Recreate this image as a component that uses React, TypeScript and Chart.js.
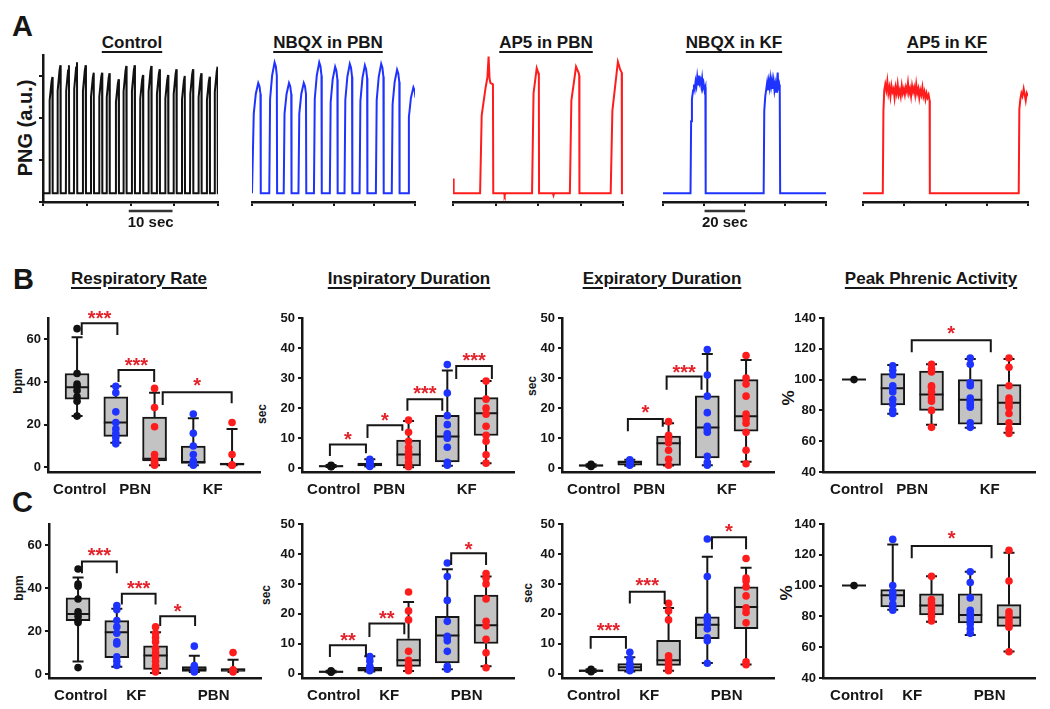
import React, { useEffect, useRef } from 'react';
import { Chart, registerables } from 'chart.js';

Chart.register(...registerables);

const FONT = "'Liberation Sans', Arial, Helvetica, sans-serif";
const INK = '#161616';
const COL_BLACK = '#111111';
const COL_BLUE = '#1f33ff';
const COL_RED = '#ff1c1c';
const COL_STAR = '#e3232b';
const BOX_FILL = '#c3c3c3';
const GROUP_COLORS = [COL_BLACK, COL_BLUE, COL_RED, COL_BLUE, COL_RED];

// ---------- Panel A: PNG traces (time in s, amplitude in a.u.) ----------
const BASE = 0.059;
const CTRL_PEAK_T = [2.15, 3.98, 5.93, 7.77, 9.76, 11.6, 13.5, 15.2, 17.3, 19.05, 20.96, 22.86, 24.77, 26.67, 28.6, 30.5, 32.4, 34.3, 36.2, 38.1, 39.9];
const CTRL_PEAK_A = [0.85, 0.93, 0.93, 0.95, 0.93, 0.88, 0.88, 0.876, 0.835, 0.925, 0.93, 0.864, 0.925, 0.903, 0.864, 0.903, 0.857, 0.903, 0.876, 0.852, 0.92];
const NBQX_PBN_PEAK_T = [1.53, 5.54, 9.08, 12.7, 16.5, 20.4, 24.0, 27.7, 31.7, 35.6, 39.6];
const NBQX_PBN_PEAK_A = [0.81, 0.95, 0.81, 0.81, 0.95, 0.92, 0.94, 0.93, 0.94, 0.9, 0.78];
const AP5_PBN_T = [0, 0.3, 12.75, 13.5, 15.25, 16.2, 16.75, 17.2, 17.6, 18.8, 18.95, 24.0, 24.3, 24.6, 37.2, 37.9, 39.4, 40.1, 40.4, 40.5, 47.0, 47.3, 47.6, 55.0, 55.7, 57.9, 59.1, 59.4, 59.5, 74.2, 75.0, 77.6, 78.7, 79.4, 79.5, 80];
const AP5_PBN_V = [0.16, 0.059, 0.059, 0.59, 0.77, 0.85, 0.99, 0.84, 0.81, 0.8, 0.059, 0.059, 0.045, 0.059, 0.059, 0.74, 0.91, 0.88, 0.86, 0.059, 0.059, 0.045, 0.059, 0.059, 0.69, 0.92, 0.88, 0.86, 0.059, 0.059, 0.62, 0.954, 0.9, 0.88, 0.059, 0.059];
const NBQX_KF_T = [0, 13.5, 13.8, 14.2, 14.8, 15.2, 15.6, 16.0, 16.4, 16.8, 17.2, 17.6, 18.0, 18.4, 18.8, 19.2, 19.6, 20.0, 20.4, 20.8, 20.95, 49.4, 49.7, 50.2, 50.7, 51.1, 51.5, 51.9, 52.3, 52.7, 53.1, 53.5, 53.9, 54.3, 54.7, 55.1, 55.5, 55.9, 56.3, 56.6, 57.0, 57.3, 57.5, 80];
const NBQX_KF_V = [0.059, 0.059, 0.55, 0.7, 0.76, 0.8, 0.77, 0.82, 0.79, 0.85, 0.8, 0.86, 0.81, 0.83, 0.79, 0.84, 0.78, 0.8, 0.76, 0.78, 0.059, 0.059, 0.62, 0.72, 0.77, 0.81, 0.76, 0.82, 0.78, 0.84, 0.79, 0.83, 0.77, 0.82, 0.76, 0.8, 0.75, 0.81, 0.88, 0.78, 0.8, 0.76, 0.059, 0.059];
const AP5_KF_T = [0, 9.6, 9.9, 10.3, 10.8, 11.3, 11.8, 12.3, 12.8, 13.3, 13.8, 14.3, 14.8, 15.3, 15.8, 16.3, 16.8, 17.3, 17.8, 18.3, 18.8, 19.3, 19.8, 20.3, 20.8, 21.3, 21.8, 22.3, 22.8, 23.3, 23.8, 24.3, 24.8, 25.3, 25.8, 26.3, 26.8, 27.3, 27.8, 28.3, 28.8, 29.3, 29.8, 30.3, 30.8, 31.3, 31.8, 32.3, 32.4, 75.5, 75.8, 76.3, 76.8, 77.3, 77.9, 78.4, 78.9, 79.4, 80];
const AP5_KF_V = [0.059, 0.059, 0.62, 0.76, 0.8, 0.76, 0.82, 0.74, 0.78, 0.72, 0.79, 0.75, 0.77, 0.71, 0.78, 0.74, 0.8, 0.73, 0.76, 0.72, 0.79, 0.74, 0.77, 0.73, 0.78, 0.75, 0.81, 0.74, 0.77, 0.72, 0.79, 0.75, 0.78, 0.73, 0.8, 0.74, 0.77, 0.71, 0.76, 0.73, 0.78, 0.72, 0.75, 0.7, 0.74, 0.71, 0.73, 0.69, 0.059, 0.059, 0.63, 0.7, 0.74, 0.72, 0.77, 0.73, 0.69, 0.74, 0.72];

const CTRL_SHAPE = [[-0.7, 0], [-0.63, 0.8], [-0.2, 0.96], [0, 1], [0.06, 0]];
const NBQX_PBN_SHAPE = [[-1.3, 0], [-1.1, 0.72], [-0.6, 0.9], [0, 1], [0.3, 0.97], [0.55, 0.9], [0.62, 0]];

function buildBursts(peaks: number[], amps: number[], shape: number[][], xMax: number) {
  const out: { x: number; y: number }[] = [{ x: 0, y: BASE }];
  peaks.forEach((p, i) => {
    shape.forEach(([dt, f]) => out.push({ x: p + dt, y: BASE + f * (amps[i] - BASE) }));
  });
  if (out[out.length - 1].x < xMax) out.push({ x: xMax, y: BASE });
  return out;
}
function zipXY(t: number[], v: number[]) {
  return t.map((x, i) => ({ x, y: v[i] }));
}

const TRACES = [
  { left: 43, right: 218, xMax: 40, xStep: 10, color: COL_BLACK, showY: true, data: buildBursts(CTRL_PEAK_T, CTRL_PEAK_A, CTRL_SHAPE, 40), bar: [19.6, 29.6, '10 sec'] },
  { left: 242, right: 415, xMax: 40, xStep: 10, color: COL_BLUE, showY: false, data: buildBursts(NBQX_PBN_PEAK_T, NBQX_PBN_PEAK_A, NBQX_PBN_SHAPE, 40), bar: null },
  { left: 443, right: 623, xMax: 80, xStep: 20, color: COL_RED, showY: false, data: zipXY(AP5_PBN_T, AP5_PBN_V), bar: null },
  { left: 653, right: 826, xMax: 80, xStep: 20, color: COL_BLUE, showY: false, data: zipXY(NBQX_KF_T, NBQX_KF_V), bar: [20.4, 40.3, '20 sec'] },
  { left: 853, right: 1028, xMax: 80, xStep: 20, color: COL_RED, showY: false, data: zipXY(AP5_KF_T, AP5_KF_V), bar: null },
];
const TRACE_Y_TICKS = [0, 2 / 7, 4 / 7, 6 / 7];

// ---------- Panels B & C: box plots [lo, q1, median, q3, hi] ----------
const B_LABELS = ['Control', 'PBN', 'KF'];
const C_LABELS = ['Control', 'KF', 'PBN'];
const LABEL_POS = [1.07, 2.5, 4.5];
const RATE_TICKS = [0, 20, 40, 60];
const DUR_TICKS = [0, 10, 20, 30, 40, 50];
const PEAK_TICKS = [40, 60, 80, 100, 120, 140];

const B_RATE_BOX = [[24, 32, 37.5, 44, 61], [11.5, 14.5, 21, 33, 38], [1, 3, 4, 23.5, 35], [1, 1.8, 2.5, 10, 23], [1, 1, 1.5, 2, 18]];
const B_RATE_PTS = [[65, 44, 39, 38, 36, 33, 31, 24], [38, 35, 26, 21, 18, 16, 14, 12, 11], [37, 28, 19, 6, 4, 3, 2, 1.5, 1], [25, 16, 10, 6, 3, 2, 1.5, 1], [21, 6, 1, 1]];
const B_RATE_SIG = [[1.12, 2.04, 67.5, 62, 62, 72, '***'], [2.07, 2.99, 45.6, 40, 40, 50, '***'], [3.21, 4.99, 35.2, 29.2, 30, 40.6, '*']];

const B_INSP_BOX = [[0.4, 0.6, 0.7, 0.9, 1.1], [0.6, 0.8, 1.2, 1.7, 3], [0.3, 0.8, 4.6, 9.4, 15.7], [0.8, 2.1, 10.6, 17.6, 32.5], [1.7, 10.9, 18.3, 23.5, 29]];
const B_INSP_PTS = [[1.0, 0.8, 0.7, 0.6, 0.5], [3, 2.5, 2, 1.5, 1.2, 1, 0.8, 0.6], [16, 12, 9, 7, 5.5, 4.5, 3.5, 2, 1, 0.5], [34.5, 25, 17.5, 14.5, 11.5, 11, 10, 7, 2, 1], [29, 23, 20, 18, 14, 11, 9, 4.5, 1.7]];
const B_INSP_SIG = [[0.97, 1.9, 7.9, 4.1, 5, 11.2, '*'], [1.94, 2.84, 14.3, 10.1, 12.5, 17.4, '*'], [2.97, 3.87, 23, 19.1, 19.1, 26.6, '***'], [4.23, 5.15, 34, 29.7, 29.7, 37.4, '***']];

const B_EXP_BOX = [[0.5, 0.7, 0.9, 1.1, 1.3], [0.8, 1.0, 2.0, 2.5, 2.8], [0.9, 0.9, 8.3, 10.7, 15], [1, 3.4, 13.6, 24.1, 38], [2.2, 12.3, 17.3, 29.5, 36]];
const B_EXP_PTS = [[1.3, 1.0, 0.8, 0.6], [2.8, 2.5, 2.2, 1.8, 1.5, 1.2, 1], [15.5, 11, 10, 8.5, 6, 3, 1], [39.5, 31, 24, 18.5, 14, 13, 12, 4, 2, 1], [37.5, 30, 28, 24, 18, 16.5, 15, 12, 6, 1.5]];
const B_EXP_SIG = [[1.95, 2.85, 16.4, 12.3, 13.8, 20.1, '*'], [2.95, 3.85, 30.5, 26.1, 26.1, 33.6, '***']];

const B_PEAK_BOX = [[100, 100, 100, 100, 100], [77.8, 83.6, 94.4, 103.9, 109.5], [70.7, 80, 90.3, 105.6, 110], [68.7, 71, 86.9, 100, 113.4], [65.5, 70.7, 84.9, 96.8, 113.4]];
const B_PEAK_PTS = [[100], [109, 106, 103, 96, 94, 92, 87, 84, 80, 78], [110, 107, 105, 96, 95, 92, 88, 86, 80, 69], [114, 110, 98, 96, 88, 86, 84, 82, 72, 69], [114, 108, 96, 88, 86, 84, 82, 78, 72, 68, 65]];
const B_PEAK_SIG = [[2.49, 4.53, 125.6, 117.7, 117.7, 133, '*']];

const C_RATE_BOX = [[5.8, 24.9, 28, 35.6, 45], [3.4, 7.6, 19.5, 24.9, 30.5], [0.5, 2.1, 8.6, 13.2, 19.5], [1, 1.2, 2.2, 3.5, 8.5], [1, 1.2, 2, 2.5, 6.7]];
const C_RATE_PTS = [[49, 42, 41, 35, 29, 27, 25, 24, 3], [32, 30, 25, 22, 19, 15, 14, 8, 6, 4], [22, 19, 17, 15, 12, 10, 8, 6, 4, 3, 2, 1], [13, 4, 3, 2, 1.5, 1], [10, 2, 1.5, 1]];
const C_RATE_SIG = [[1.1, 2.0, 52.5, 47, 47, 57.5, '***'], [2.13, 3.0, 37.5, 32.5, 32.5, 42.1, '***'], [3.12, 4.02, 27, 22.4, 22.4, 31.6, '*']];

const C_INSP_BOX = [[0.4, 0.5, 0.7, 0.9, 1.0], [0.8, 0.9, 1.5, 2.2, 5.9], [0.9, 2.5, 4.5, 11.7, 24], [1.5, 3.6, 12.8, 19.2, 34.9], [2.5, 10.1, 16.2, 26.3, 32.5]];
const C_INSP_PTS = [[1.0, 0.7, 0.5], [5.8, 4.3, 2.5, 2, 1.5, 1], [27.3, 21, 18, 7.5, 4.5, 3, 2, 1], [37, 32.5, 24.5, 17.5, 12.5, 12, 11, 7.5, 2.5, 1.5], [33.5, 32, 30, 25, 17.5, 16, 11.5, 7, 2]];
const C_INSP_SIG = [[0.97, 1.9, 9.5, 5.6, 5.6, 12.8, '**'], [1.99, 2.89, 16.8, 12.3, 13.2, 20.1, '**'], [4.1, 5.0, 40.2, 36.3, 36.3, 43, '*']];

const C_EXP_BOX = [[0.6, 0.7, 1.0, 1.3, 1.5], [0.8, 0.9, 2.2, 3.4, 5.5], [1.0, 2.8, 4.5, 11.2, 22], [3.6, 11.7, 16.4, 19, 39.1], [3.1, 15.1, 22.3, 29, 35.4]];
const C_EXP_PTS = [[1.5, 1.2, 0.9, 0.7], [7.2, 5, 3.5, 2.5, 2, 1.5, 1], [23.5, 21, 18, 6, 5, 4, 3, 2, 1], [45, 32.5, 19, 18, 16.5, 15, 12, 11, 3.5], [38.5, 32, 31, 29, 26, 22, 20.5, 17, 4, 3]];
const C_EXP_SIG = [[0.99, 1.9, 12.3, 8.4, 8.4, 16.2, '***'], [2.0, 2.9, 27.4, 23.5, 23.2, 31, '***'], [4.12, 5.0, 45.6, 41.6, 41.6, 49.2, '*']];

const C_PEAK_BOX = [[100, 100, 100, 100, 100], [84.3, 86.1, 93.7, 97.4, 126.7], [76.5, 80.9, 87, 94.6, 106], [68, 75.7, 80.9, 94.6, 109], [57.2, 73.5, 79.3, 87.6, 121.3]];
const C_PEAK_PTS = [[100], [130, 100, 96, 94, 92, 88, 86, 84], [106, 91, 89, 87, 85, 83, 80, 77], [109, 102, 92, 84, 82, 80, 78, 75, 72, 69], [123, 103, 83, 81, 79, 77, 75, 73, 57]];
const C_PEAK_SIG = [[2.49, 4.55, 125.7, 117.8, 117.8, 133.9, '*']];

const PANELS = [
  { left: 48, top: 318, box: B_RATE_BOX, pts: B_RATE_PTS, sig: B_RATE_SIG, yMin: -2.2, yMax: 70, ticks: RATE_TICKS, labels: B_LABELS, xMin: 0.25 },
  { left: 302, top: 318, box: B_INSP_BOX, pts: B_INSP_PTS, sig: B_INSP_SIG, yMin: -1.25, yMax: 50, ticks: DUR_TICKS, labels: B_LABELS, xMin: 0.25 },
  { left: 562, top: 318, box: B_EXP_BOX, pts: B_EXP_PTS, sig: B_EXP_SIG, yMin: -1.25, yMax: 50, ticks: DUR_TICKS, labels: B_LABELS, xMin: 0.25 },
  { left: 823, top: 318, box: B_PEAK_BOX, pts: B_PEAK_PTS, sig: B_PEAK_SIG, yMin: 40, yMax: 140, ticks: PEAK_TICKS, labels: B_LABELS, xMin: 0.2 },
  { left: 49, top: 524, box: C_RATE_BOX, pts: C_RATE_PTS, sig: C_RATE_SIG, yMin: -1.85, yMax: 70, ticks: RATE_TICKS, labels: C_LABELS, xMin: 0.25 },
  { left: 302, top: 524, box: C_INSP_BOX, pts: C_INSP_PTS, sig: C_INSP_SIG, yMin: -1.4, yMax: 50, ticks: DUR_TICKS, labels: C_LABELS, xMin: 0.25 },
  { left: 562, top: 524, box: C_EXP_BOX, pts: C_EXP_PTS, sig: C_EXP_SIG, yMin: -1.4, yMax: 50, ticks: DUR_TICKS, labels: C_LABELS, xMin: 0.25 },
  { left: 823, top: 524, box: C_PEAK_BOX, pts: C_PEAK_PTS, sig: C_PEAK_SIG, yMin: 40, yMax: 140, ticks: PEAK_TICKS, labels: C_LABELS, xMin: 0.2 },
];

// layout of box panels
const Y_W = 44;
const AREA_W = 212;
const AREA_H = 154;
const PAD_T = 30;
const PAD_R = 8;
const X_H = 30;
const UNIT_PX = 38.75;

function boxExtras(cfg: any) {
  return {
    id: 'boxExtras',
    afterDatasetDraw(chart: any, args: any) {
      if (args.index !== 0) return;
      const { ctx, scales } = chart;
      const x = scales.x;
      const y = scales.y;
      ctx.save();
      ctx.strokeStyle = INK;
      ctx.lineWidth = 2;
      ctx.lineCap = 'butt';
      cfg.box.forEach((b: number[], i: number) => {
        const px = x.getPixelForValue(i + 1);
        const [lo, q1, med, q3, hi] = b;
        ctx.beginPath();
        ctx.moveTo(px, y.getPixelForValue(q3));
        ctx.lineTo(px, y.getPixelForValue(hi));
        ctx.moveTo(px - 5.5, y.getPixelForValue(hi));
        ctx.lineTo(px + 5.5, y.getPixelForValue(hi));
        ctx.moveTo(px, y.getPixelForValue(q1));
        ctx.lineTo(px, y.getPixelForValue(lo));
        ctx.moveTo(px - 5.5, y.getPixelForValue(lo));
        ctx.lineTo(px + 5.5, y.getPixelForValue(lo));
        ctx.moveTo(px - 12, y.getPixelForValue(med));
        ctx.lineTo(px + 12, y.getPixelForValue(med));
        ctx.stroke();
      });
      ctx.restore();
    },
    afterDatasetsDraw(chart: any) {
      const { ctx, scales } = chart;
      const x = scales.x;
      const y = scales.y;
      ctx.save();
      ctx.strokeStyle = INK;
      ctx.lineWidth = 2;
      cfg.sig.forEach((s: any[]) => {
        const [x1, x2, top, lb, rb, sy, txt] = s;
        const X1 = x.getPixelForValue(x1);
        const X2 = x.getPixelForValue(x2);
        ctx.beginPath();
        ctx.moveTo(X1, y.getPixelForValue(lb));
        ctx.lineTo(X1, y.getPixelForValue(top));
        ctx.lineTo(X2, y.getPixelForValue(top));
        ctx.lineTo(X2, y.getPixelForValue(rb));
        ctx.stroke();
        ctx.fillStyle = COL_STAR;
        ctx.font = `bold 20px ${FONT}`;
        ctx.textAlign = 'center';
        ctx.textBaseline = 'alphabetic';
        ctx.fillText(txt, (X1 + X2) / 2, y.getPixelForValue(sy) + 11.5);
      });
      ctx.restore();
    },
  };
}

function BoxPanel({ cfg }: { cfg: any }) {
  const ref = useRef<HTMLCanvasElement>(null);
  const W = Y_W + AREA_W + PAD_R;
  const H = PAD_T + AREA_H + X_H;
  useEffect(() => {
    if (!ref.current) return;
    const datasets: any[] = [
      {
        type: 'bar',
        data: cfg.box.map((b: number[], i: number) => ({ x: i + 1, y: [b[1], b[3]] })),
        backgroundColor: BOX_FILL,
        borderColor: INK,
        borderWidth: 2,
        borderSkipped: false,
        barThickness: 24,
        order: 10,
      },
    ];
    cfg.pts.forEach((arr: number[], i: number) => {
      datasets.push({
        type: 'scatter',
        data: arr.map((v) => ({ x: i + 1, y: v })),
        backgroundColor: GROUP_COLORS[i],
        borderColor: GROUP_COLORS[i],
        borderWidth: 0,
        pointRadius: 3.8,
        clip: false,
        order: 0,
      });
    });
    const chart = new Chart(ref.current, {
      type: 'bar',
      data: { datasets },
      options: {
        responsive: false,
        animation: false,
        devicePixelRatio: 1,
        events: [],
        layout: { padding: { left: 0, top: PAD_T, right: PAD_R, bottom: 0 } },
        plugins: { legend: { display: false }, tooltip: { enabled: false }, title: { display: false } },
        scales: {
          x: {
            type: 'linear',
            offset: false,
            min: cfg.xMin,
            max: cfg.xMin + AREA_W / UNIT_PX,
            afterBuildTicks: (s: any) => {
              s.ticks = LABEL_POS.map((v) => ({ value: v }));
            },
            afterFit: (s: any) => {
              s.height = X_H;
            },
            ticks: {
              autoSkip: false,
              maxRotation: 0,
              padding: 9,
              color: INK,
              font: { family: FONT, size: 15, weight: 'bold' },
              callback: (_v: any, idx: number) => cfg.labels[idx],
            },
            grid: { display: false, drawTicks: false, offset: false },
            border: { display: true, color: INK, width: 2.5 },
          },
          y: {
            min: cfg.yMin,
            max: cfg.yMax,
            afterBuildTicks: (s: any) => {
              s.ticks = cfg.ticks.map((v: number) => ({ value: v }));
            },
            afterFit: (s: any) => {
              s.width = Y_W;
            },
            ticks: { color: INK, padding: 3, font: { family: FONT, size: 13, weight: 'bold' } },
            grid: { display: true, drawOnChartArea: false, drawTicks: true, tickLength: 4, color: INK, lineWidth: 2 },
            border: { display: true, color: INK, width: 2.5 },
          },
        },
      } as any,
      plugins: [boxExtras(cfg)],
    } as any);
    return () => chart.destroy();
  }, [cfg]);
  return (
    <canvas
      ref={ref}
      width={W}
      height={H}
      style={{ position: 'absolute', left: cfg.left - Y_W, top: cfg.top - PAD_T, width: W, height: H }}
    />
  );
}

function scaleBarPlugin(bar: any) {
  return {
    id: 'scaleBar',
    afterDraw(chart: any) {
      if (!bar) return;
      const { ctx, chartArea, scales } = chart;
      const x = scales.x;
      const [from, to, label] = bar;
      const y0 = chartArea.bottom + 9;
      ctx.save();
      ctx.strokeStyle = '#333';
      ctx.lineWidth = 2.5;
      ctx.beginPath();
      ctx.moveTo(x.getPixelForValue(from), y0);
      ctx.lineTo(x.getPixelForValue(to), y0);
      ctx.stroke();
      ctx.fillStyle = INK;
      ctx.font = `bold 15px ${FONT}`;
      ctx.textAlign = 'center';
      ctx.textBaseline = 'middle';
      ctx.fillText(label, x.getPixelForValue((from + to) / 2), chartArea.bottom + 21);
      ctx.restore();
    },
  };
}

function TracePanel({ cfg }: { cfg: any }) {
  const ref = useRef<HTMLCanvasElement>(null);
  const W = cfg.right - cfg.left + 16;
  const H = 192;
  useEffect(() => {
    if (!ref.current) return;
    const xTicks: number[] = [];
    for (let v = 0; v <= cfg.xMax; v += cfg.xStep) xTicks.push(v);
    const chart = new Chart(ref.current, {
      type: 'line',
      data: {
        datasets: [
          { data: cfg.data, borderColor: cfg.color, borderWidth: 2, pointRadius: 0, tension: 0, fill: false },
        ],
      },
      options: {
        responsive: false,
        animation: false,
        devicePixelRatio: 1,
        events: [],
        parsing: true,
        layout: { padding: { left: cfg.showY ? 0 : 10, top: 10, right: 6, bottom: 0 } },
        plugins: { legend: { display: false }, tooltip: { enabled: false } },
        scales: {
          x: {
            type: 'linear',
            min: 0,
            max: cfg.xMax,
            afterBuildTicks: (s: any) => {
              s.ticks = xTicks.map((v) => ({ value: v }));
            },
            afterFit: (s: any) => {
              s.height = 35;
            },
            ticks: { display: false },
            grid: { display: true, drawOnChartArea: false, drawTicks: true, tickLength: 4, color: INK, lineWidth: 2 },
            border: { display: true, color: INK, width: 2.5 },
          },
          y: {
            display: cfg.showY,
            min: 0,
            max: 1,
            afterBuildTicks: (s: any) => {
              s.ticks = TRACE_Y_TICKS.map((v) => ({ value: v }));
            },
            afterFit: (s: any) => {
              s.width = 10;
            },
            ticks: { display: false },
            grid: { display: true, drawOnChartArea: false, drawTicks: true, tickLength: 4, color: INK, lineWidth: 2 },
            border: { display: true, color: INK, width: 2.5 },
          },
        },
      } as any,
      plugins: [scaleBarPlugin(cfg.bar)],
    } as any);
    return () => chart.destroy();
  }, [cfg]);
  return (
    <canvas
      ref={ref}
      width={W}
      height={H}
      style={{ position: 'absolute', left: cfg.left - 10, top: 45, width: W, height: H }}
    />
  );
}

const LETTERS = [
  { t: 'A', x: 12, y: 10 },
  { t: 'B', x: 13, y: 263 },
  { t: 'C', x: 12, y: 486 },
];
const TITLES = [
  { t: 'Control', x: 132, y: 33 },
  { t: 'NBQX in PBN', x: 328, y: 33 },
  { t: 'AP5 in PBN', x: 546, y: 33 },
  { t: 'NBQX in KF', x: 734, y: 33 },
  { t: 'AP5 in KF', x: 947, y: 33 },
  { t: 'Respiratory Rate', x: 139, y: 269 },
  { t: 'Inspiratory Duration', x: 409, y: 269 },
  { t: 'Expiratory Duration', x: 662, y: 269 },
  { t: 'Peak Phrenic Activity', x: 931, y: 269 },
];
const YLABELS = [
  { t: 'PNG (a.u.)', x: 25, y: 128, s: 20 },
  { t: 'bpm', x: 18, y: 381, s: 12 },
  { t: 'sec', x: 262, y: 414, s: 12 },
  { t: 'sec', x: 532, y: 386, s: 12 },
  { t: '%', x: 788, y: 398, s: 17 },
  { t: 'bpm', x: 19, y: 588, s: 12 },
  { t: 'sec', x: 266, y: 595, s: 12 },
  { t: 'sec', x: 528, y: 593, s: 12 },
  { t: '%', x: 786, y: 593, s: 17 },
];

export default function App() {
  return (
    <div
      style={{
        position: 'fixed',
        left: 0,
        top: 0,
        width: 1050,
        height: 709,
        background: '#ffffff',
        overflow: 'hidden',
        fontFamily: FONT,
        color: INK,
      }}
    >
      {LETTERS.map((l) => (
        <div key={l.t} style={{ position: 'absolute', left: l.x, top: l.y, fontSize: 29, lineHeight: '32px', fontWeight: 'bold' }}>
          {l.t}
        </div>
      ))}
      {TITLES.map((t) => (
        <div
          key={t.t}
          style={{
            position: 'absolute',
            left: t.x,
            top: t.y,
            transform: 'translateX(-50%)',
            whiteSpace: 'nowrap',
            fontSize: 17,
            lineHeight: '20px',
            fontWeight: 'bold',
            textDecoration: 'underline',
            textDecorationThickness: '2px',
            textUnderlineOffset: '3px',
          }}
        >
          {t.t}
        </div>
      ))}
      {YLABELS.map((l, i) => (
        <div
          key={i}
          style={{
            position: 'absolute',
            left: l.x,
            top: l.y,
            transform: 'translate(-50%, -50%) rotate(-90deg)',
            whiteSpace: 'nowrap',
            fontSize: l.s,
            lineHeight: 1,
            fontWeight: 'bold',
          }}
        >
          {l.t}
        </div>
      ))}
      {TRACES.map((c, i) => (
        <TracePanel key={'t' + i} cfg={c} />
      ))}
      {PANELS.map((p, i) => (
        <BoxPanel key={'p' + i} cfg={p} />
      ))}
    </div>
  );
}
